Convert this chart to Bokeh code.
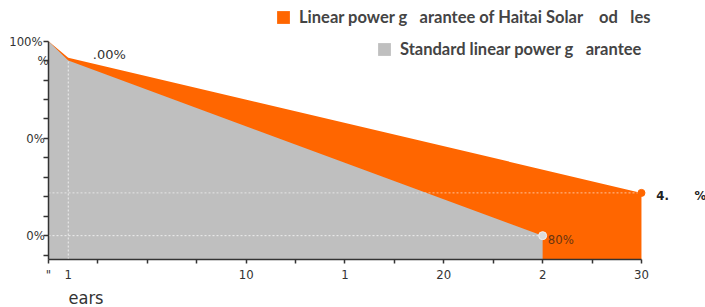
from bokeh.plotting import figure
from bokeh.models import Range1d, FixedTicker, Label, Legend, LegendItem, Title
from bokeh.embed import file_html
from bokeh.resources import INLINE

# ---- data ----
years_haitai = [0, 1, 30]
power_haitai = [100, 98.3, 84.4]
years_std = [0, 1, 25]
power_std = [100, 98.0, 80]

x_major = [0, 1, 10, 15, 20, 25, 30]
x_labels = ['"', "1", "10", "1", "20", "2", "30"]
x_minor = [0, 2.5, 5, 7.5, 10, 12.5, 15, 17.5, 20, 22.5, 25, 27.5, 30]

y_major = [100, 98, 90, 80]
y_labels = ["100%\u2002", "%", "0%\u00a0", "0%\u00a0"]
y_minor = [78, 80, 82, 84, 86, 88, 90, 92, 94, 96, 98, 100]

legend_haitai = "Linear power g\u2003arantee of Haitai Solar \u2003od\u2003les"
legend_std = "Standard linear power g\u2003arantee"
label_first = ".00%"
label_haitai_end = "4.\u2003\u2003\u2009%"
label_std_end = "80%"
x_title = "ears"

ORANGE = "#ff6600"
GREY = "#bfbfbf"
TICK_FONT = "DejaVu Sans Condensed, DejaVu Sans"

y_start, y_end = 77.55, 104.18
x_start, x_end = 0, 33.24

p = figure(width=705, height=307, output_backend="svg", toolbar_location=None,
           x_range=Range1d(x_start, x_end), y_range=Range1d(y_start, y_end),
           min_border_left=48, min_border_right=0, min_border_top=0, min_border_bottom=46)
p.outline_line_color = None
p.xgrid.visible = False
p.ygrid.visible = False
p.background_fill_color = "white"

orange_r = p.varea(x=years_haitai, y1=[y_start] * len(years_haitai), y2=power_haitai,
                   fill_color=ORANGE)
grey_r = p.varea(x=years_std, y1=[y_start] * len(years_std), y2=power_std,
                 fill_color=GREY)

# dotted guide lines
p.segment(x0=[years_std[1]], y0=[y_start], x1=[years_std[1]], y1=[power_std[1]],
          line_color="white", line_alpha=0.75, line_dash="2 2", line_width=1)
p.segment(x0=[years_haitai[0]], y0=[power_haitai[-1]], x1=[years_haitai[-1]], y1=[power_haitai[-1]],
          line_color="white", line_alpha=0.6, line_dash="2 2", line_width=1)
p.segment(x0=[years_std[0]], y0=[power_std[-1]], x1=[years_std[-1]], y1=[power_std[-1]],
          line_color="white", line_alpha=0.75, line_dash="2 2", line_width=1)

# end markers
p.scatter(x=[years_haitai[-1]], y=[power_haitai[-1]], size=7, fill_color=ORANGE, line_color=ORANGE)
p.scatter(x=[years_std[-1]], y=[power_std[-1]], size=8, fill_color="#dcdcdc", line_color="#f2f2f2")

# axes
for ax in (p.xaxis[0], p.yaxis[0]):
    ax.axis_line_color = "#333333"
    ax.axis_line_width = 1.5
    ax.major_tick_line_color = None
    ax.major_tick_out = 0
    ax.major_tick_in = 0
    ax.minor_tick_line_color = "#333333"
    ax.minor_tick_line_width = 1.5
    ax.minor_tick_out = 5
    ax.minor_tick_in = 0
    ax.major_label_text_font = TICK_FONT
    ax.major_label_text_font_size = "13px"
    ax.major_label_text_color = "#333333"

p.xaxis[0].ticker = FixedTicker(ticks=x_major, minor_ticks=x_minor)
p.xaxis[0].major_label_overrides = {t: l for t, l in zip(x_major, x_labels)}
p.xaxis[0].major_label_standoff = 3
p.xaxis[0].minor_tick_out = 4
p.xaxis[0].bounds = (x_start, years_haitai[-1])

p.yaxis[0].ticker = FixedTicker(ticks=y_major, minor_ticks=y_minor)
p.yaxis[0].major_label_overrides = {t: l for t, l in zip(y_major, y_labels)}
p.yaxis[0].major_label_standoff = -5
p.yaxis[0].bounds = (y_start, power_haitai[0])

# value labels
p.add_layout(Label(x=2.24, y=98.67, text=label_first, text_font="DejaVu Sans", text_font_size="13px",
                   text_color="#333333", text_baseline="alphabetic"))
p.add_layout(Label(x=30.75, y=84.08, text=label_haitai_end, text_font=TICK_FONT, text_font_size="13px",
                   text_font_style="bold", text_color="#222222", text_baseline="alphabetic"))
p.add_layout(Label(x=25.26, y=79.62, text=label_std_end, text_font=TICK_FONT, text_font_size="13px",
                   text_color="#6a3410", text_baseline="alphabetic"))

# axis title
p.add_layout(Title(text=x_title, align="left", offset=20, standoff=0, text_font=TICK_FONT,
                   text_font_size="18px", text_font_style="normal", text_color="#333333"), "below")

# legends
common = dict(orientation="horizontal", border_line_color=None, background_fill_alpha=0,
              padding=0, margin=0, glyph_width=16, glyph_height=16, label_standoff=8,
              label_text_font="Lato", label_text_font_style="bold", label_text_font_size="16.5px",
              label_text_color="#444444", label_height=16, spacing=0)
leg1 = Legend(items=[LegendItem(label=legend_haitai, renderers=[orange_r])], location=(227, 232), **common)
leg2 = Legend(items=[LegendItem(label=legend_std, renderers=[grey_r])], location=(328, 200), **common)
p.add_layout(leg1)
p.add_layout(leg2)

open("out.html", "w").write(file_html(p, INLINE))
